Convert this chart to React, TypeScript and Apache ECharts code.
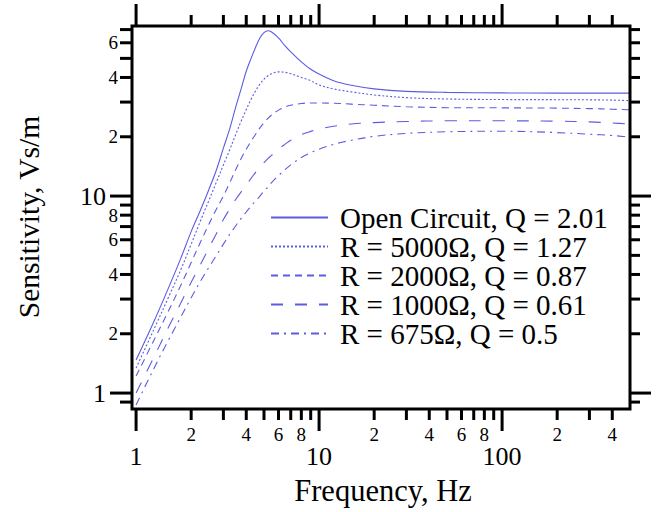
import React, { useEffect, useRef } from "react";
import * as echarts from "echarts";

const freq = [1, 1.25, 1.5, 1.75, 2, 2.25, 2.5, 2.75, 3, 3.25, 3.5, 3.75, 4, 4.25, 4.5, 4.75, 5, 5.25, 5.5, 6, 6.5, 7, 8, 9, 10, 12, 15, 20, 30, 50, 100, 200, 300, 400, 500];

const openCircuit = [1.47, 2.3, 3.4, 4.8, 6.6, 8.5, 10.8, 13.6, 17.5, 22.0, 28.2, 35.0, 43.0, 50.0, 57.0, 63.5, 67.5, 69.0, 68.0, 63.5, 58.0, 54.0, 48.0, 44.0, 41.6, 38.5, 36.5, 35.0, 34.0, 33.6, 33.4, 33.3, 33.3, 33.3, 33.3];
const r5000 = [1.34, 2.1, 3.05, 4.2, 5.7, 7.5, 9.5, 11.8, 14.4, 17.2, 20.5, 24.0, 27.5, 31.0, 34.2, 37.0, 39.2, 40.8, 41.8, 42.7, 42.5, 41.8, 40.0, 38.5, 36.6, 35.0, 33.8, 32.6, 31.6, 31.1, 30.9, 30.85, 30.8, 30.7, 30.5];
const r2000 = [1.22, 1.85, 2.6, 3.5, 4.6, 5.85, 7.2, 8.6, 10.0, 11.7, 13.6, 15.5, 17.3, 19.0, 20.6, 22.2, 23.6, 24.8, 25.8, 27.3, 28.3, 28.9, 29.5, 29.7, 29.7, 29.6, 29.3, 28.9, 28.4, 28.1, 28.05, 27.95, 27.8, 27.6, 27.4];
const r1000 = [1.0, 1.52, 2.15, 2.85, 3.65, 4.5, 5.45, 6.45, 7.6, 8.6, 9.6, 10.5, 11.4, 12.3, 13.2, 14.0, 14.8, 15.5, 16.1, 17.3, 18.3, 19.2, 20.5, 21.3, 21.9, 22.6, 23.2, 23.6, 23.9, 24.1, 24.1, 24.0, 23.8, 23.5, 23.2];
const r675 = [0.87, 1.33, 1.85, 2.42, 3.05, 3.7, 4.35, 5.0, 5.7, 6.4, 7.05, 7.7, 8.3, 8.9, 9.45, 10.0, 10.6, 11.1, 11.7, 12.7, 13.6, 14.4, 15.7, 16.6, 17.3, 18.3, 19.2, 20.1, 20.8, 21.2, 21.35, 21.0, 20.6, 20.3, 19.9];

const seriesNames = [
  "Open Circuit, Q = 2.01",
  "R = 5000Ω, Q = 1.27",
  "R = 2000Ω, Q = 0.87",
  "R = 1000Ω, Q = 0.61",
  "R = 675Ω, Q = 0.5",
];

const xMajorTicks = [1, 10, 100];
const xMinorTicks = [2, 3, 4, 5, 6, 7, 8, 9, 20, 30, 40, 50, 60, 70, 80, 90, 200, 300, 400];
const xMajorLabels = ["1", "10", "100"];
const xMinorLabelValues = [2, 4, 6, 8, 20, 40, 60, 80, 200, 400];
const xMinorLabels = ["2", "4", "6", "8", "2", "4", "6", "8", "2", "4"];

const yMajorTicks = [1, 10];
const yMinorTicks = [0.9, 2, 3, 4, 5, 6, 7, 8, 9, 20, 30, 40, 50, 60, 70];
const yMajorLabels = ["1", "10"];
const yMinorLabelValues = [2, 4, 6, 8, 20, 40, 60];
const yMinorLabels = ["2", "4", "6", "8", "2", "4", "6"];

const FONT = "'Liberation Serif', 'Times New Roman', serif";
const LINE_COLOR = "#5c5ce2";
const dashes: any[] = ["solid", [2, 2], [7, 5], [12, 12], [8, 5, 2, 5]];
const seriesData = [openCircuit, r5000, r2000, r1000, r675];

export default function App() {
  const ref = useRef<HTMLDivElement>(null);
  useEffect(() => {
    if (!ref.current) return;
    const chart = echarts.init(ref.current, null, { renderer: "svg" });

    const lineSeries = seriesNames.map((name, i) => ({
      name,
      type: "line",
      data: freq.map((f, j) => [f, seriesData[i][j]]),
      symbol: "none",
      smooth: 0.35,
      lineStyle: { color: LINE_COLOR, width: 1.1, type: dashes[i] },
      itemStyle: { color: LINE_COLOR },
      z: 3,
    }));

    const xTickData = [
      ...xMajorTicks.map((v) => [v, 1, 1]),
      ...xMinorTicks.map((v) => [v, 1, 0]),
    ];
    const yTickData = [
      ...yMajorTicks.map((v) => [1, v, 1]),
      ...yMinorTicks.map((v) => [1, v, 0]),
    ];
    const xLabelData = [
      ...xMajorTicks.map((v, i) => [v, 1, 1, i]),
      ...xMinorLabelValues.map((v, i) => [v, 1, 0, i]),
    ];
    const yLabelData = [
      ...yMajorTicks.map((v, i) => [1, v, 1, i]),
      ...yMinorLabelValues.map((v, i) => [1, v, 0, i]),
    ];

    const option: any = {
      animation: false,
      backgroundColor: "#fff",
      grid: {
        left: 132,
        top: 26,
        width: 498,
        height: 383,
        show: true,
        borderColor: "#000",
        borderWidth: 3,
        backgroundColor: "transparent",
        z: 5,
      },
      xAxis: {
        type: "log",
        logBase: 10,
        min: 0.95,
        max: 500,
        axisLine: { show: false },
        axisTick: { show: false },
        axisLabel: { show: false },
        splitLine: { show: false },
      },
      yAxis: {
        type: "log",
        logBase: 10,
        min: 0.83,
        max: 73,
        axisLine: { show: false },
        axisTick: { show: false },
        axisLabel: { show: false },
        splitLine: { show: false },
      },
      legend: {
        orient: "vertical",
        left: 270,
        top: 203,
        padding: 0,
        itemGap: 0,
        itemWidth: 57,
        itemHeight: 1,
        selectedMode: false,
        data: seriesNames,
        itemStyle: { opacity: 0 },
        textStyle: { fontSize: 29, lineHeight: 28, fontFamily: FONT, color: "#000", padding: [0, 0, 0, 7] },
      },
      graphic: [
        {
          type: "text",
          x: 383,
          y: 491,
          style: {
            text: "Frequency, Hz",
            fontSize: 30.5,
            fontFamily: FONT,
            fill: "#000",
            align: "center",
            verticalAlign: "middle",
            textAlign: "center",
            textVerticalAlign: "middle",
          },
        },
        {
          type: "text",
          x: 29,
          y: 217,
          rotation: Math.PI / 2,
          style: {
            text: "Sensitivity, Vs/m",
            fontSize: 29.5,
            fontFamily: FONT,
            fill: "#000",
            align: "center",
            verticalAlign: "middle",
            textAlign: "center",
            textVerticalAlign: "middle",
          },
        },
      ],
      series: [
        ...lineSeries,
        {
          type: "custom",
          name: "xticks",
          clip: false,
          silent: true,
          z: 6,
          data: xTickData,
          renderItem: (params: any, api: any) => {
            const v = api.value(0);
            const major = api.value(2) === 1;
            const px = api.coord([v, 1])[0];
            const cs = params.coordSys;
            const len = major ? 22 : 11;
            const bottom = cs.y + cs.height;
            return {
              type: "group",
              children: [
                { type: "line", shape: { x1: px, y1: bottom, x2: px, y2: bottom + len }, style: { stroke: "#000", lineWidth: 3 } },
                { type: "line", shape: { x1: px, y1: cs.y, x2: px, y2: cs.y - len }, style: { stroke: "#000", lineWidth: 3 } },
              ],
            };
          },
        },
        {
          type: "custom",
          name: "yticks",
          clip: false,
          silent: true,
          z: 6,
          data: yTickData,
          renderItem: (params: any, api: any) => {
            const v = api.value(1);
            const major = api.value(2) === 1;
            const py = api.coord([1, v])[1];
            const cs = params.coordSys;
            const lenL = major ? 22 : 12;
            const lenR = major ? 21 : 10;
            const right = cs.x + cs.width;
            return {
              type: "group",
              children: [
                { type: "line", shape: { x1: cs.x, y1: py, x2: cs.x - lenL, y2: py }, style: { stroke: "#000", lineWidth: 3 } },
                { type: "line", shape: { x1: right, y1: py, x2: right + lenR, y2: py }, style: { stroke: "#000", lineWidth: 3 } },
              ],
            };
          },
        },
        {
          type: "custom",
          name: "xlabels",
          clip: false,
          silent: true,
          z: 6,
          data: xLabelData,
          renderItem: (params: any, api: any) => {
            const v = api.value(0);
            const major = api.value(2) === 1;
            const idx = api.value(3);
            const px = api.coord([v, 1])[0];
            const cs = params.coordSys;
            const bottom = cs.y + cs.height;
            return {
              type: "text",
              x: px,
              y: major ? bottom + 47 : bottom + 25,
              style: {
                text: major ? xMajorLabels[idx] : xMinorLabels[idx],
                fontSize: major ? 26 : 19,
                fontFamily: FONT,
                fill: "#000",
                align: "center",
                verticalAlign: "middle",
              },
            };
          },
        },
        {
          type: "custom",
          name: "ylabels",
          clip: false,
          silent: true,
          z: 6,
          data: yLabelData,
          renderItem: (params: any, api: any) => {
            const v = api.value(1);
            const major = api.value(2) === 1;
            const idx = api.value(3);
            const py = api.coord([1, v])[1];
            const cs = params.coordSys;
            return {
              type: "text",
              x: major ? cs.x - 26 : cs.x - 14,
              y: py,
              style: {
                text: major ? yMajorLabels[idx] : yMinorLabels[idx],
                fontSize: major ? 26 : 19,
                fontFamily: FONT,
                fill: "#000",
                align: "right",
                verticalAlign: "middle",
              },
            };
          },
        },
      ],
    };
    chart.setOption(option);
    return () => chart.dispose();
  }, []);
  return (
    <div
      ref={ref}
      style={{ position: "fixed", left: 0, top: 0, width: 660, height: 512, background: "#fff" }}
    />
  );
}
